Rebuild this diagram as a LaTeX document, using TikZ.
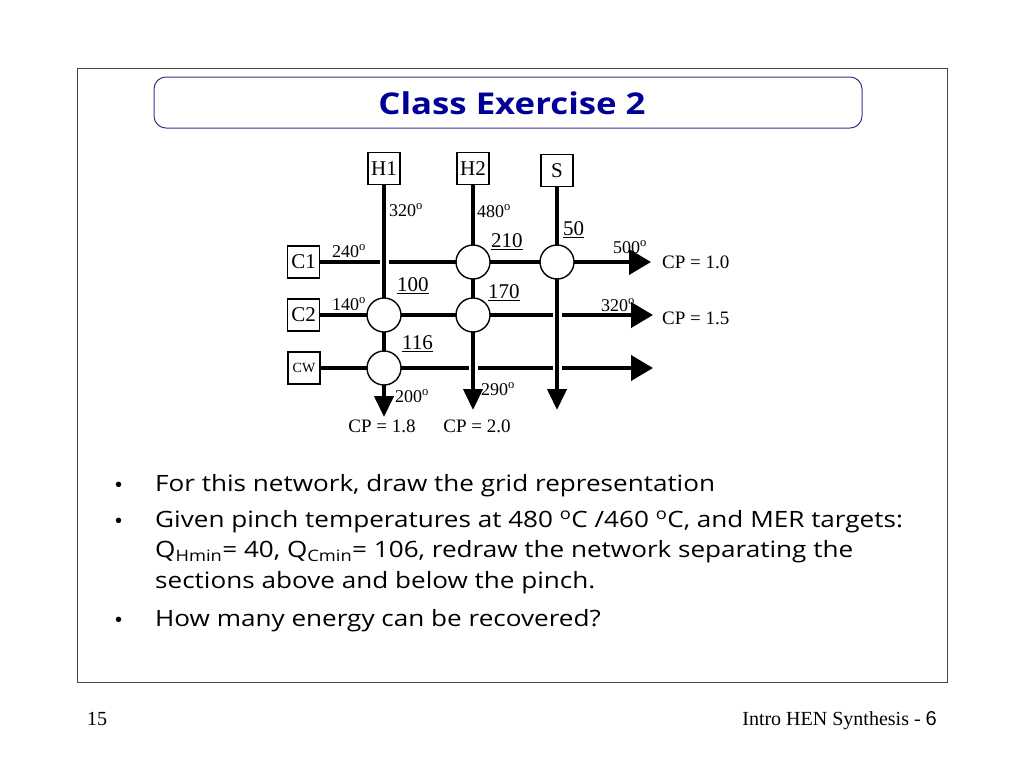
\documentclass[tikz,border=0pt]{standalone}
\usepackage{fontspec}
\setmainfont{Liberation Serif}
\newfontfamily\comicf[FakeStretch=1.16]{Open Sans}
\newfontfamily\arialf{Liberation Sans}
\usetikzlibrary{arrows.meta}
\definecolor{navy}{RGB}{0,0,150}
\definecolor{boxblue}{RGB}{60,50,140}
\definecolor{framegray}{RGB}{70,70,70}
\begin{document}
\begin{tikzpicture}[x=1pt,y=-1pt,
  stream/.style={line width=4pt,-{Triangle[length=22pt,width=25pt]}},
  vstream/.style={line width=4pt,-{Triangle[length=21pt,width=19pt]}},
  sbox/.style={draw,line width=1.1pt,minimum width=32pt,minimum height=32pt,inner sep=0pt,font=\fontsize{21}{21}\selectfont},
  hx/.style={circle,draw,fill=white,line width=1.4pt,minimum size=34pt,inner sep=0pt},
  tlab/.style={font=\fontsize{18}{18}\selectfont,inner sep=0pt,anchor=west},
  qlab/.style={font=\fontsize{21}{21}\selectfont,inner sep=0pt,anchor=west},
  cplab/.style={font=\fontsize{19}{19}\selectfont,inner sep=0pt},
  gapbox/.style={fill=white,draw=none,minimum width=9pt,minimum height=7pt,inner sep=0pt},
  bul/.style={font=\comicf\fontsize{22.5}{22.5}\selectfont,anchor=base west,inner sep=0pt},
  bdot/.style={font=\arialf\fontsize{20}{20}\selectfont,anchor=base west,inner sep=0pt},
  foot/.style={font=\fontsize{20}{20}\selectfont,inner sep=0pt}
]
\useasboundingbox (0,0) rectangle (1024,768);
\fill[white] (0,0) rectangle (1024,768);
% frames
\draw[line width=1pt, draw=framegray] (77,68) rectangle (947,682);
\draw[boxblue, line width=1pt, rounded corners=12pt] (154,77) rectangle (862,128);
\node[font=\comicf\bfseries\fontsize{30}{30}\selectfont, text=navy] (title) at (512,103) {Class Exercise 2};

% stream boxes
\node[sbox] (H1) at (384,168.5) {H1};
\node[sbox] (H2) at (473,168.5) {H2};
\node[sbox] (S) at (557,170.5) {S};
\node[sbox] (C1) at (303.5,262) {C1};
\node[sbox] (C2) at (303.5,315) {C2};
\node[sbox, font=\fontsize{14}{14}\selectfont] (CW) at (304,368) {CW};

% stream ends
\coordinate (C1end) at (651,262);
\coordinate (C2end) at (653,315);
\coordinate (CWend) at (653,368);
\coordinate (H1end) at (384,417);
\coordinate (H2end) at (473,410);
\coordinate (Send) at (557,410);

% horizontal streams
\draw[stream] (C1.east) -- (C1end);
\draw[stream] (C2.east) -- (C2end);
\draw[stream] (CW.east) -- (CWend);

% gaps where lines cross without exchanger
\node[gapbox] (g1) at (384,262) {};
\node[gapbox] (g2) at (557,315) {};
\node[gapbox] (g3) at (473,368) {};
\node[gapbox] (g4) at (557,368) {};

% vertical streams
\draw[vstream] (H1.south) -- (H1end);
\draw[vstream] (H2.south) -- (H2end);
\draw[vstream] (S.south) -- (Send);

% exchangers
\node[hx] (E1) at (473,262) {};
\node[hx] (E2) at (557,262) {};
\node[hx] (E3) at (384,315) {};
\node[hx] (E4) at (473,315) {};
\node[hx] (E5) at (384,368) {};

% labels
\node[tlab] (t1) at (389,210) {320\textsuperscript{o}};
\node[tlab] (t2) at (477,211) {480\textsuperscript{o}};
\node[qlab] (q1) at (563,230) {\underline{50}};
\node[qlab] (q2) at (491,242) {\underline{210}};
\node[tlab] (t3) at (613,247) {500\textsuperscript{o}};
\node[cplab, anchor=west] (cp1) at (662,262) {CP = 1.0};
\node[tlab] (t4) at (332,251) {240\textsuperscript{o}};
\node[qlab] (q3) at (397,286) {\underline{100}};
\node[qlab] (q4) at (488,293) {\underline{170}};
\node[tlab] (t5) at (332,304) {140\textsuperscript{o}};
\node[tlab] (t6) at (601,305) {320\textsuperscript{o}};
\node[cplab, anchor=west] (cp2) at (662,318) {CP = 1.5};
\node[qlab] (q5) at (402,344) {\underline{116}};
\node[tlab] (t7) at (395,396) {200\textsuperscript{o}};
\node[tlab] (t8) at (481,389) {290\textsuperscript{o}};
\node[cplab] (cp3) at (382,426) {CP = 1.8};
\node[cplab] (cp4) at (477,426) {CP = 2.0};

% bullets
\node[bdot] (d1) at (115,491) {•};
\node[bul] (b1) at (155,491) {For this network, draw the grid representation};
\node[bdot] (d2) at (115,527) {•};
\node[bul] (b2) at (155,527) {Given pinch temperatures at 480 \textsuperscript{o}C /460 \textsuperscript{o}C, and MER targets:};
\node[bul] (b3) at (155,557) {Q\textsubscript{Hmin}= 40, Q\textsubscript{Cmin}= 106, redraw the network separating the};
\node[bul] (b4) at (155,588) {sections above and below the pinch.};
\node[bdot] (d3) at (115,626) {•};
\node[bul] (b5) at (155,626) {How many energy can be recovered?};

% footer
\node[foot, anchor=base west] (pg) at (87,725) {15};
\node[foot, anchor=base east] (ft) at (937,725) {Intro HEN Synthesis - {\arialf 6}};
\end{tikzpicture}
\end{document}
